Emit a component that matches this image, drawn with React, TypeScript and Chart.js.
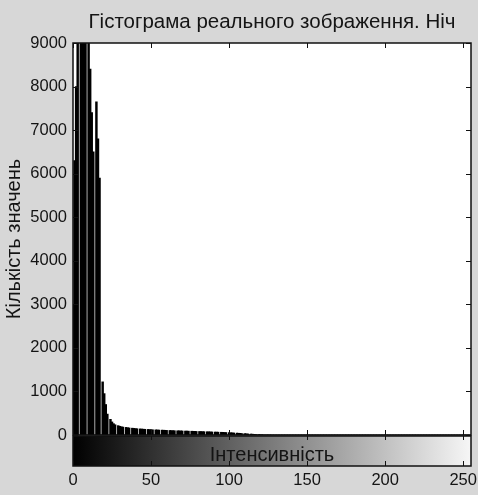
import React, { useEffect, useRef } from "react";
import { Chart, registerables } from "chart.js";

Chart.register(...registerables);

const TITLE = "Гістограма реального зображення. Ніч";
const X_LABEL = "Інтенсивність";
const Y_LABEL = "Кількість значень";

const X_MIN = 0;
const X_MAX = 255;
const Y_MIN = 0;
const Y_MAX = 9000;
const X_TICKS = [0, 50, 100, 150, 200, 250];
const Y_TICKS = [0, 1000, 2000, 3000, 4000, 5000, 6000, 7000, 8000, 9000];

// Pixel counts for intensity levels 0..255
const COUNTS = [
  3000, 6300, 8000, 12000, 0, 15000, 16500, 15500, 14000, 0, 12500, 8400, 7400, 6500, 0, 7650,
  6800, 5900, 0, 1220, 950, 700, 480, 0, 360, 300, 260, 235, 0, 215, 200, 190,
  182, 0, 175, 168, 162, 0, 157, 152, 148, 144, 0, 140, 137, 134, 131, 0,
  128, 125, 123, 120, 0, 118, 116, 114, 0, 112, 110, 108, 106, 0, 104, 102,
  100, 99, 0, 97, 96, 94, 93, 0, 91, 90, 88, 0, 87, 85, 84, 82,
  0, 81, 79, 78, 76, 0, 75, 73, 72, 70, 0, 68, 67, 65, 0, 63,
  61, 59, 57, 0, 55, 52, 50, 47, 0, 44, 41, 38, 35, 0, 32, 28,
  25, 0, 22, 19, 16, 13, 0, 10, 8, 6, 4, 0, 3, 2, 2, 1,
  0, 0, 0, 0, 0, 0, 0, 0, 0, 0, 0, 0, 0, 0, 0, 0,
  0, 0, 0, 0, 0, 0, 0, 0, 0, 0, 0, 0, 0, 0, 0, 0,
  0, 0, 0, 0, 0, 0, 0, 0, 0, 0, 0, 0, 0, 0, 0, 0,
  0, 0, 0, 0, 0, 0, 0, 0, 0, 0, 0, 0, 0, 0, 0, 0,
  0, 0, 0, 0, 0, 0, 0, 0, 0, 0, 0, 0, 0, 0, 0, 0,
  0, 0, 0, 0, 0, 0, 0, 0, 0, 0, 0, 0, 0, 0, 0, 0,
  0, 0, 0, 0, 0, 0, 0, 0, 0, 0, 0, 0, 0, 0, 0, 0,
  0, 0, 0, 0, 0, 0, 0, 0, 0, 0, 0, 0, 0, 0, 0, 0,
];

const FONT = "'Liberation Sans', Arial, sans-serif";
const TEXT_COLOR = "#141414";
const PAGE_BG = "#d7d7d7";

const framePlugin = {
  id: "matlabFrame",
  beforeDraw(chart: any) {
    const { ctx, chartArea: a, scales } = chart;
    ctx.save();
    ctx.fillStyle = PAGE_BG;
    ctx.fillRect(0, 0, chart.width, chart.height);
    ctx.fillStyle = "#ffffff";
    ctx.fillRect(a.left, a.top, a.width, a.height);
    // grayscale colour bar under the axis
    const x0 = scales.x.getPixelForValue(X_MIN);
    const x1 = scales.x.getPixelForValue(X_MAX);
    const g = ctx.createLinearGradient(x0, 0, x1, 0);
    g.addColorStop(0, "#000000");
    g.addColorStop(1, "#f6f6f6");
    ctx.fillStyle = g;
    ctx.fillRect(x0, a.bottom + 1, x1 - x0, 30);
    ctx.restore();
  },
  afterDatasetsDraw(chart: any) {
    const { ctx, chartArea: a, scales } = chart;
    const cbTop = a.bottom + 1;
    const cbBottom = a.bottom + 31;
    ctx.save();
    ctx.strokeStyle = "#111";
    ctx.lineWidth = 1;
    const line = (x1: number, y1: number, x2: number, y2: number) => {
      ctx.beginPath();
      ctx.moveTo(x1, y1);
      ctx.lineTo(x2, y2);
      ctx.stroke();
    };
    X_TICKS.forEach((v) => {
      const px = Math.round(scales.x.getPixelForValue(v)) + 0.5;
      line(px, a.top, px, a.top + 5);
      line(px, a.bottom, px, a.bottom - 5);
      line(px, cbTop, px, cbTop + 4);
      line(px, cbBottom, px, cbBottom - 5);
    });
    Y_TICKS.forEach((v) => {
      const py = Math.round(scales.y.getPixelForValue(v)) + 0.5;
      line(a.left, py, a.left + 5, py);
      line(a.right, py, a.right - 5, py);
    });
    ctx.lineWidth = 1.5;
    ctx.strokeRect(a.left, a.top, a.right - a.left, a.bottom - a.top);
    ctx.strokeRect(a.left, cbTop, a.right - a.left, cbBottom - cbTop);
    ctx.restore();
  },
};

export default function App() {
  const canvasRef = useRef<HTMLCanvasElement | null>(null);

  useEffect(() => {
    const canvas = canvasRef.current;
    if (!canvas) return;
    const chart = new Chart(canvas, {
      type: "bar",
      data: {
        datasets: [
          {
            data: COUNTS.map((c, i) => ({ x: X_MIN + i, y: c })),
            backgroundColor: "#000000",
            borderWidth: 0,
            barThickness: 1.8,
          },
        ],
      },
      options: {
        animation: false,
        responsive: false,
        events: [],
        layout: { padding: { left: 0, right: 7, top: 0, bottom: 0 } },
        plugins: {
          legend: { display: false },
          tooltip: { enabled: false },
          title: {
            display: true,
            text: TITLE,
            fullSize: false,
            color: TEXT_COLOR,
            font: { family: FONT, size: 20.5, weight: "normal" },
            padding: { top: 10, bottom: 8.4 },
          },
        },
        scales: {
          x: {
            type: "linear",
            min: X_MIN,
            max: X_MAX,
            offset: false,
            afterBuildTicks: (s: any) => {
              s.ticks = X_TICKS.map((v) => ({ value: v }));
            },
            ticks: {
              color: TEXT_COLOR,
              font: { family: FONT, size: 16.5 },
              padding: 36,
              autoSkip: false,
              maxRotation: 0,
              minRotation: 0,
              callback: (v: any) => String(v),
            },
            grid: { display: false, drawTicks: false },
            border: { display: false },
            title: {
              display: true,
              text: X_LABEL,
              color: TEXT_COLOR,
              font: { family: FONT, size: 20 },
              padding: { top: 0, bottom: 27.5 },
            },
            afterFit: (s: any) => {
              s.height = 60;
              s.paddingLeft = 0;
              s.paddingRight = 0;
            },
          },
          y: {
            min: Y_MIN,
            max: Y_MAX,
            afterBuildTicks: (s: any) => {
              s.ticks = Y_TICKS.map((v) => ({ value: v }));
            },
            ticks: {
              color: TEXT_COLOR,
              font: { family: FONT, size: 16.5 },
              padding: 6,
              callback: (v: any) => String(v),
            },
            grid: { display: false, drawTicks: false },
            border: { display: false },
            title: {
              display: true,
              text: Y_LABEL,
              color: TEXT_COLOR,
              font: { family: FONT, size: 20 },
              padding: { top: 2, bottom: 0 },
            },
            afterFit: (s: any) => {
              s.width = 73;
              s.paddingTop = 0;
              s.paddingBottom = 0;
            },
          },
        },
      },
      plugins: [framePlugin],
    } as any);
    return () => chart.destroy();
  }, []);

  return (
    <div style={{ position: "absolute", left: 0, top: 0, width: 478, height: 495 }}>
      <canvas ref={canvasRef} width={478} height={495} style={{ display: "block" }} />
    </div>
  );
}
